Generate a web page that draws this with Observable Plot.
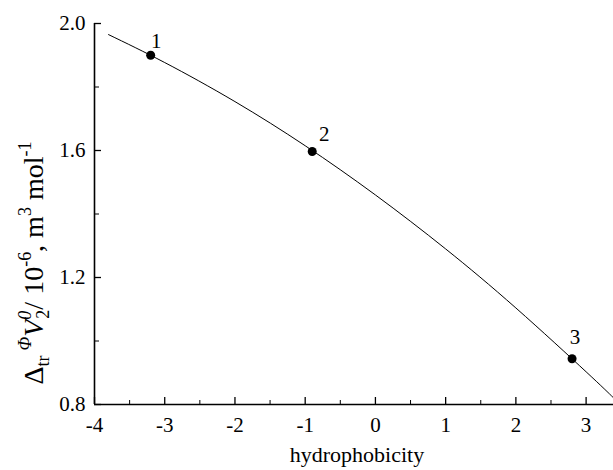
<!DOCTYPE html>
<html><head><meta charset="utf-8">
<script src="https://cdn.jsdelivr.net/npm/d3@7"></script>
<script src="https://cdn.jsdelivr.net/npm/@observablehq/plot@0.6"></script>
<style>body{margin:0;background:#fff}</style>
</head><body><div id="chart"></div>
<script>
// Data
const pointX = [-3.2, -0.9, 2.8];
const pointY = [1.9, 1.597, 0.944];
const pointLabels = ["1", "2", "3"];
const curveX = [-3.8, -3, -2, -1, 0, 1, 2, 3, 3.39];
const curveY = [1.965, 1.877, 1.754, 1.615, 1.46, 1.29, 1.104, 0.903, 0.821];
const xTicks = [-4, -3, -2, -1, 0, 1, 2, 3];
const xMinor = [-3.5, -2.5, -1.5, -0.5, 0.5, 1.5, 2.5];
const yTicks = [0.8, 1.2, 1.6, 2.0];
const yMinor = [1.0, 1.4, 1.8];
const xLabel = "hydrophobicity";

const points = pointX.map((x, i) => ({x, y: pointY[i], label: pointLabels[i]}));
const curve = curveX.map((x, i) => ({x, y: curveY[i]}));
const font = "Liberation Serif, Times New Roman, serif";
const labelOffsets = [[5.5, -14], [12, -17.5], [3, -22]];

const plot = Plot.plot({
  width: 613, height: 470,
  marginLeft: 94, marginRight: 0, marginTop: 23, marginBottom: 66,
  style: {fontFamily: font, fontSize: "21px", background: "white", color: "black", overflow: "visible"},
  x: {domain: [-4, 3.39]},
  y: {domain: [0.8, 2.0]},
  marks: [
    Plot.axisX(xTicks, {tickSize: 0, tickPadding: 13, fontSize: 21, fontFamily: font, tickFormat: d => String(d), label: null}),
    Plot.axisX(xTicks, {tickSize: 7, dy: -7, text: null, strokeWidth: 1.3, label: null}),
    Plot.axisX(xMinor, {tickSize: 4, dy: -4, text: null, strokeWidth: 1, label: null}),
    Plot.axisY(yTicks, {tickSize: 0, tickPadding: 9, fontSize: 21, fontFamily: font, tickFormat: d3.format(".1f"), label: null}),
    Plot.axisY(yTicks, {tickSize: 7, dx: 7, text: null, strokeWidth: 1.3, label: null}),
    Plot.axisY(yMinor, {tickSize: 5, dx: 5, text: null, strokeWidth: 1, label: null}),
    Plot.ruleY([0.8], {strokeWidth: 1.6}),
    Plot.ruleX([-4], {strokeWidth: 1.6}),
    Plot.line(curve, {x: "x", y: "y", curve: "natural", stroke: "black", strokeWidth: 1}),
    Plot.dot(points, {x: "x", y: "y", r: 4.5, fill: "black"}),
    ...points.map((p, i) => Plot.text([p], {x: "x", y: "y", text: "label", dx: labelOffsets[i][0], dy: labelOffsets[i][1], fontSize: 21, fontFamily: font})),
    Plot.text([xLabel], {text: d => d, frameAnchor: "bottom", dy: 57, dx: 3, fontSize: 22, fontFamily: font})
  ]
});
document.getElementById("chart").appendChild(plot);

// Y axis label with sub/superscripts
const svg = d3.select(plot);
const t = svg.append("text")
  .attr("transform", "translate(43,263) rotate(-90)")
  .attr("text-anchor", "middle")
  .attr("font-family", font)
  .attr("font-size", 28)
  .attr("fill", "black");
const parts = [
  {s: "\u0394", dy: 0},
  {s: "tr", size: 18, dy: 6},
  {s: "\u03A6", size: 18, italic: true, dy: -18, dx: 5},
  {s: "V", italic: true, dy: 12},
  {s: "0", size: 18, italic: true, dy: -12},
  {s: "2", size: 18, dy: 18, dx: -8},
  {s: "/ 10", dy: -6},
  {s: "-6", size: 18, dy: -12},
  {s: ", m", dy: 12},
  {s: "3", size: 18, dy: -12},
  {s: " mol", dy: 12},
  {s: "-1", size: 18, dy: -12}
];
for (const p of parts) {
  const ts = t.append("tspan").text(p.s).attr("dy", p.dy);
  if (p.dx) ts.attr("dx", p.dx);
  if (p.size) ts.attr("font-size", p.size);
  if (p.italic) ts.attr("font-style", "italic");
}
</script>
</body></html>
